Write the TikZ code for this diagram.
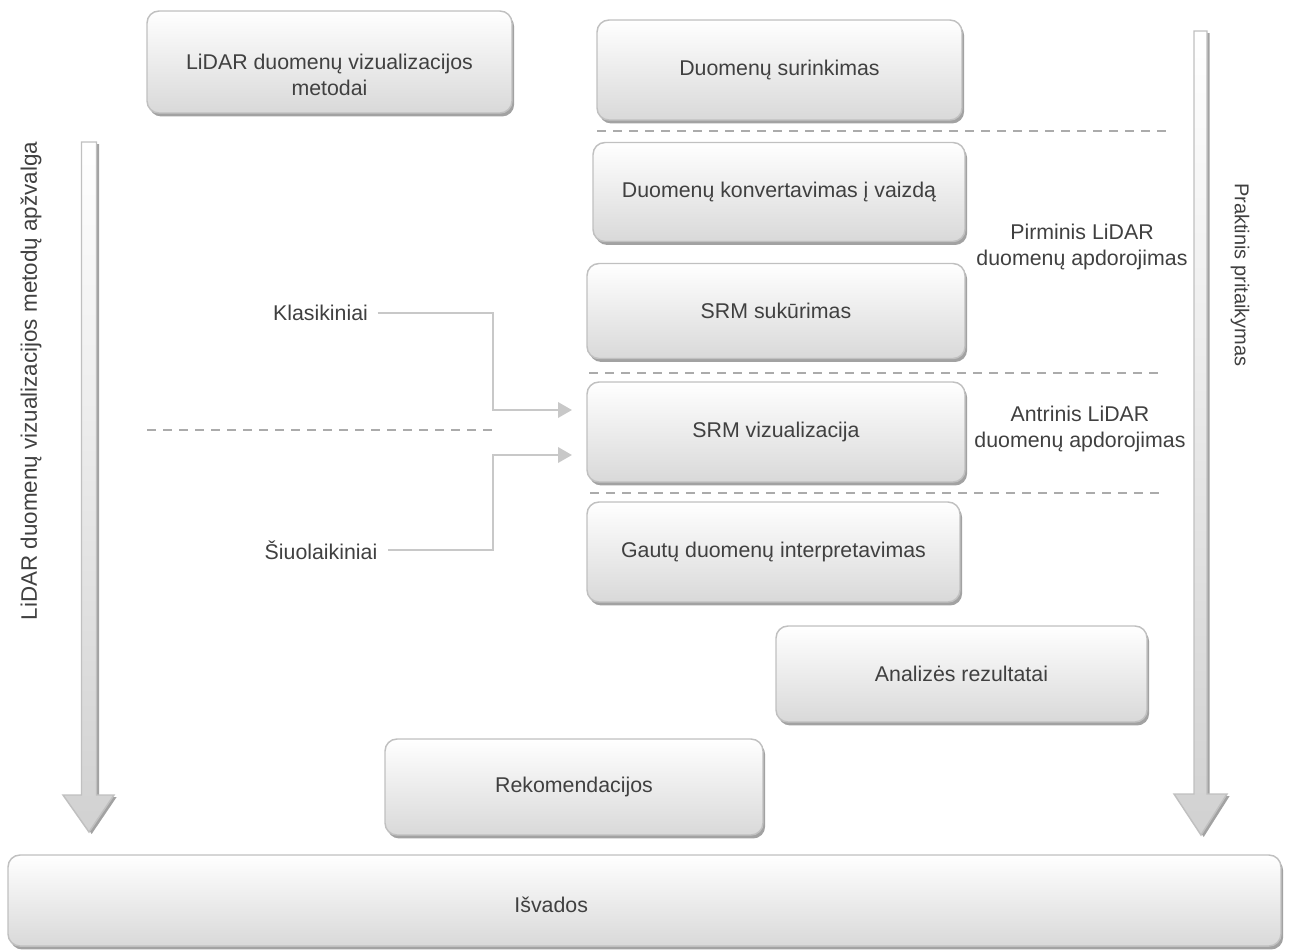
\documentclass[tikz,border=0pt]{standalone}
\usepackage{fontspec}
\setmainfont{Liberation Sans}
\usetikzlibrary{arrows.meta,shadows}
\definecolor{txtc}{HTML}{404040}
\definecolor{bordc}{HTML}{C0C0C0}
\definecolor{shadc}{HTML}{A2A2A2}
\definecolor{connc}{HTML}{C8C8C8}
\definecolor{dashc}{HTML}{ABABAB}
\tikzset{
  boxnode/.style={draw=bordc, line width=1.1pt, rounded corners=9pt,
    top color=white, bottom color=black!15, text=txtc, align=center,
    font=\fontsize{16}{19.5}\selectfont,
    drop shadow={shadow xshift=1.6pt, shadow yshift=-2.6pt, opacity=1, fill=shadc}},
  plain/.style={text=txtc, align=center, font=\fontsize{16}{19.5}\selectfont, inner sep=0pt},
  sep/.style={draw=dashc, line width=2.2pt, dash pattern=on 7pt off 5pt},
  conn/.style={draw=connc, line width=1.9pt, -{Triangle[length=10.5pt,width=11.5pt]}},
  bigarrow/.style={draw=bordc, line width=1.1pt, top color=white, bottom color=black!18,
    drop shadow={shadow xshift=2pt, shadow yshift=-1.5pt, opacity=1, fill=shadc}}
}
\begin{document}
\begin{tikzpicture}[x=0.75pt,y=-0.75pt]
\useasboundingbox (0,0) rectangle (1289,951);
% big arrows
\path[bigarrow] (81.5,142) -- (96.5,142) -- (96.5,795) -- (114,795) -- (89,832) -- (63,795) -- (81.5,795) -- cycle;
\path[bigarrow] (1194,31) -- (1207,31) -- (1207,794) -- (1227,794) -- (1201,835) -- (1174,794) -- (1194,794) -- cycle;
\node[plain, rotate=90, font=\fontsize{16.8}{20}\selectfont] (lt) at (31,381) {LiDAR duomenų vizualizacijos metodų apžvalga};
\node[plain, rotate=-90, font=\fontsize{15}{18}\selectfont] (rt) at (1240,275) {Praktinis pritaikymas};
% separators
\draw[sep] (597,131) -- (1167,131);
\draw[sep] (589,373) -- (1160,373);
\draw[sep] (590,493) -- (1160,493);
\draw[sep] (147,430) -- (495,430);
% boxes
\node[boxnode, minimum width=365*0.75pt, minimum height=102*0.75pt,
  label={[plain, yshift=-10pt]center:LiDAR duomenų vizualizacijos\\metodai}] (b1) at (329.5,62) {};
\node[boxnode, minimum width=365*0.75pt, minimum height=100*0.75pt] (b2) at (779.5,70) {Duomenų surinkimas};
\node[boxnode, minimum width=372*0.75pt, minimum height=99*0.75pt] (b3) at (779,192) {Duomenų konvertavimas į vaizdą};
\node[boxnode, minimum width=378*0.75pt, minimum height=95*0.75pt] (b4) at (776,311) {SRM sukūrimas};
\node[boxnode, minimum width=378*0.75pt, minimum height=100*0.75pt] (b5) at (776,432) {SRM vizualizacija};
\node[boxnode, minimum width=373*0.75pt, minimum height=100*0.75pt] (b6) at (773.5,552) {Gautų duomenų interpretavimas};
\node[boxnode, minimum width=371*0.75pt, minimum height=96*0.75pt] (b7) at (961.5,674) {Analizės rezultatai};
\node[boxnode, minimum width=378*0.75pt, minimum height=96*0.75pt] (b8) at (574,787) {Rekomendacijos};
\node[boxnode, minimum width=1273*0.75pt, minimum height=91*0.75pt,
  label={[plain, xshift=-70pt, yshift=-3pt]center:Išvados}] (b9) at (644.5,900.5) {};
% side labels
\node[plain] (p1) at (1082,247) {Pirminis LiDAR\\duomenų apdorojimas};
\node[plain] (p2) at (1080,429) {Antrinis LiDAR\\duomenų apdorojimas};
\node[plain] (kl) at (320.5,313) {Klasikiniai};
\node[plain] (si) at (321,550) {Šiuolaikiniai};
% connectors
\coordinate (ka) at (493,410);
\coordinate (sa) at (493,455);
\coordinate (kt) at (572,410);
\coordinate (st) at (572,455);
\draw[conn] ([xshift=7pt]kl.east) -| (ka) -- (kt);
\draw[conn] ([xshift=8pt]si.east) -| (sa) -- (st);
\end{tikzpicture}
\end{document}
